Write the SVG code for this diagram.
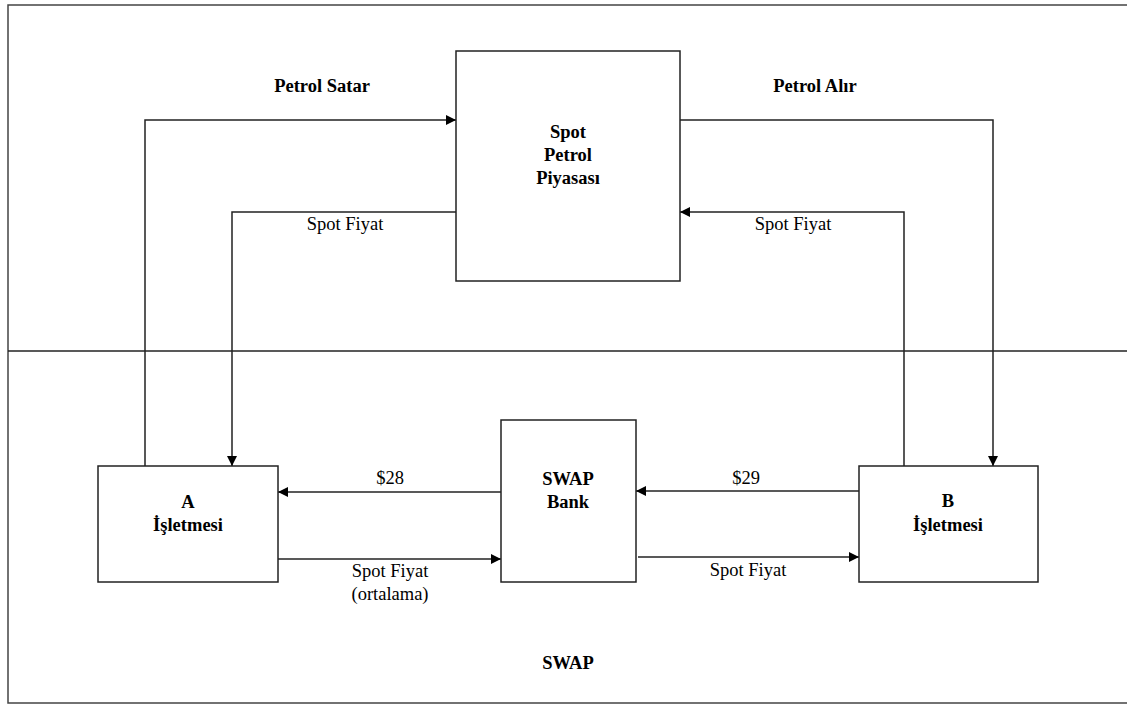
<svg xmlns="http://www.w3.org/2000/svg" width="1127" height="705" viewBox="0 0 1127 705">
<defs>
<marker id="arr" markerWidth="10" markerHeight="10" refX="10" refY="5" orient="auto" markerUnits="userSpaceOnUse">
<path d="M0,0 L10,5 L0,10 Z" fill="#000"/>
</marker>
<style>
.box{fill:#fff;stroke:#222;stroke-width:1.5}
.ln{fill:none;stroke:#222;stroke-width:1.5}
.frame{fill:none;stroke:#444;stroke-width:1.5}
text{font-family:"Liberation Serif","Times New Roman",serif;font-size:18.5px;fill:#000;text-anchor:middle}
.b{font-weight:bold}
</style>
</defs>
<rect width="1127" height="705" fill="#fff"/>
<path class="frame" d="M1130,5 L8,5 L8,703 L1130,703"/>
<line class="ln" x1="8" y1="351" x2="1127" y2="351"/>
<g id="connectors">
<path class="ln" d="M145,466 L145,120 L456,120" marker-end="url(#arr)"/>
<path class="ln" d="M456,212 L232,212 L232,466" marker-end="url(#arr)"/>
<path class="ln" d="M680,120 L993,120 L993,466" marker-end="url(#arr)"/>
<path class="ln" d="M904,467 L904,212 L680,212" marker-end="url(#arr)"/>
<path class="ln" d="M501,492 L278,492" marker-end="url(#arr)"/>
<path class="ln" d="M278,559 L501,559" marker-end="url(#arr)"/>
<path class="ln" d="M859,491 L636,491" marker-end="url(#arr)"/>
<path class="ln" d="M638,557 L859,557" marker-end="url(#arr)"/>
<text class="b" x="322" y="92">Petrol Satar</text>
<text class="b" x="815" y="92">Petrol Alır</text>
<text x="345" y="230">Spot Fiyat</text>
<text x="793" y="230">Spot Fiyat</text>
<text x="390" y="484">$28</text>
<text x="390" y="577">Spot Fiyat</text>
<text x="390" y="600">(ortalama)</text>
<text x="746" y="484">$29</text>
<text x="748" y="576">Spot Fiyat</text>
</g>
<g id="spot">
<rect class="box" x="456" y="51" width="224" height="230"/>
<text class="b" x="568" y="138">Spot</text>
<text class="b" x="568" y="161">Petrol</text>
<text class="b" x="568" y="184">Piyasası</text>
</g>
<g id="a">
<rect class="box" x="98" y="466" width="180" height="116"/>
<text class="b" x="188" y="508">A</text>
<text class="b" x="188" y="531">İşletmesi</text>
</g>
<g id="bank">
<rect class="box" x="501" y="420" width="135" height="162"/>
<text class="b" x="568" y="485">SWAP</text>
<text class="b" x="568" y="508">Bank</text>
</g>
<g id="b">
<rect class="box" x="859" y="466" width="179" height="116"/>
<text class="b" x="948" y="507">B</text>
<text class="b" x="948" y="531">İşletmesi</text>
</g>
<text class="b" x="568" y="669">SWAP</text>
</svg>
